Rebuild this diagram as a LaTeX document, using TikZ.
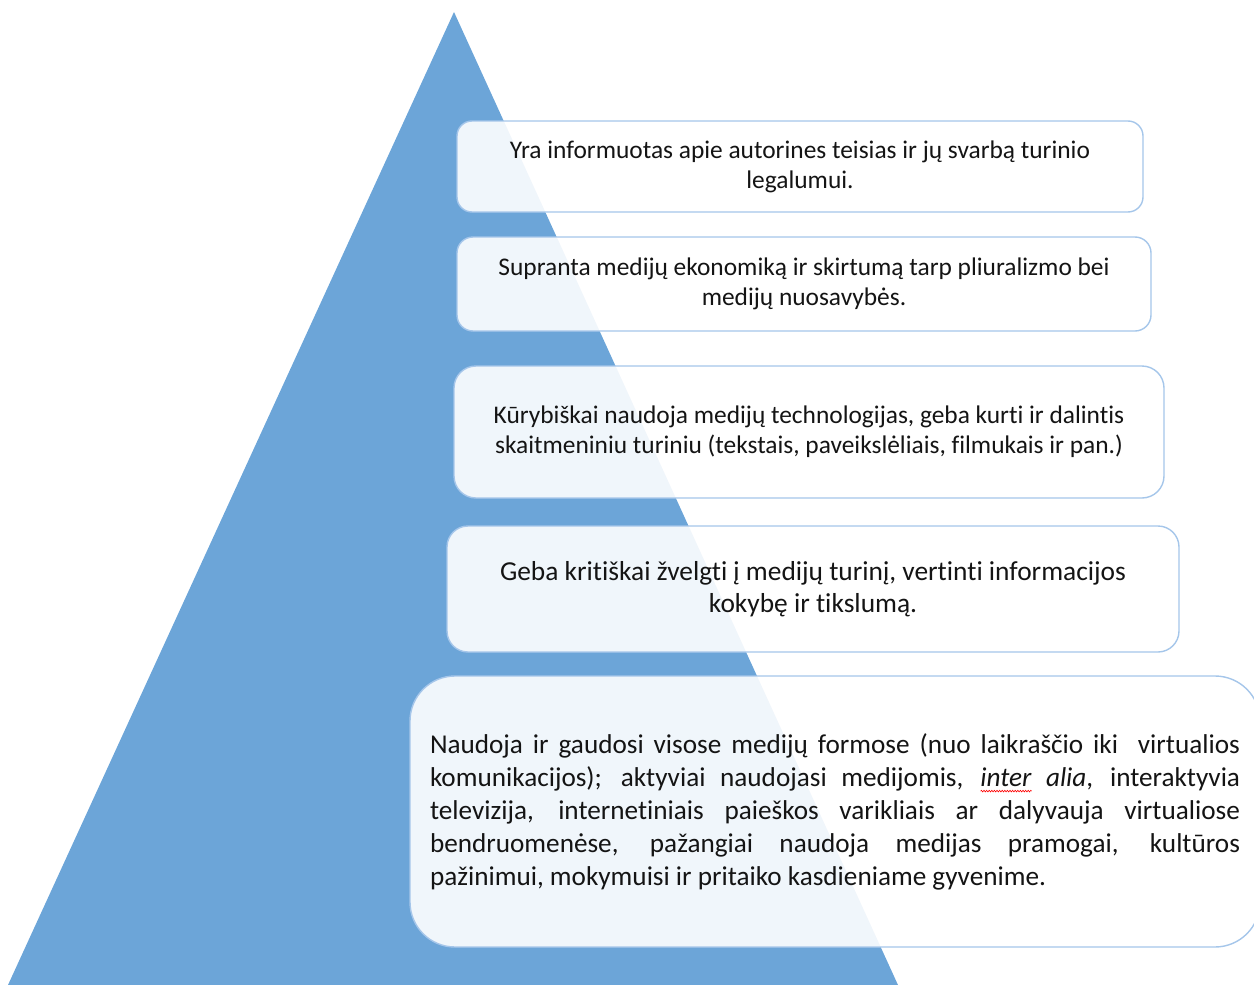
\documentclass[tikz,border=0pt]{standalone}
\usepackage{fontspec}
\setmainfont{Carlito}[Ligatures=NoCommon]
\usepackage{xcolor}
\usepackage{tikz}
\usetikzlibrary{decorations.pathmorphing}
\definecolor{pyr}{HTML}{6CA5D8}
\definecolor{edge}{HTML}{A5C6EA}
\definecolor{txt}{HTML}{141414}
\newlength{\spellwd}
\newcommand{\spellmark}[1]{\settowidth{\spellwd}{#1}\makebox[0pt][l]{\tikz[baseline=0pt,x=1pt,y=1pt,sharp corners]
  \draw[red,line width=0.6pt,opacity=1,decorate,decoration={snake,amplitude=0.8pt,segment length=2.6pt}]
    (0pt,-5pt) -- (\spellwd,-5pt);}#1}

\begin{document}
\begin{tikzpicture}[x=1pt,y=-1pt,
  level/.style={draw=edge,line width=1.4pt,fill=white,fill opacity=0.9,text opacity=1,
    text=txt,align=center,inner sep=0pt},
  small/.style={font=\fontsize{25.4}{30}\selectfont},
  big/.style={font=\fontsize{27.2}{33}\selectfont}
]
  \useasboundingbox (0,0) rectangle (1254,985);
  \clip (0,0) rectangle (1254,985);
  \fill[pyr] (454,12) coordinate (apex) -- (898,985) coordinate (br) -- (8,985) coordinate (bl) -- cycle;
  \node[level,small,rounded corners=15pt,minimum width=686pt,minimum height=91pt] (copyright) at (800,166.5)
    {Yra informuotas apie autorines teisias ir jų svarbą turinio\\ legalumui.};
  \node[level,small,rounded corners=16pt,minimum width=694pt,minimum height=94pt] (economy) at (804,284)
    {Supranta medijų ekonomiką ir skirtumą tarp pliuralizmo bei\\ medijų nuosavybės.};
  \node[level,small,rounded corners=22pt,minimum width=710pt,minimum height=132pt] (create) at (809,432)
    {Kūrybiškai naudoja medijų technologijas, geba kurti ir dalintis\\ skaitmeniniu turiniu (tekstais, paveikslėliais, filmukais ir pan.)};
  \node[level,font=\fontsize{27.4}{32}\selectfont,rounded corners=21pt,minimum width=732pt,minimum height=126pt] (critic) at (813,589)
    {Geba kritiškai žvelgti į medijų turinį, vertinti informacijos\\ kokybę ir tikslumą.};
  \node[level,big,align=justify,text width=810pt,inner xsep=20pt,rounded corners=45pt,minimum height=271pt] (use) at (835,811.5)
    {Naudoja ir gaudosi visose medijų formose (nuo laikraščio iki~ virtualios\linebreak
     komunikacijos); aktyviai naudojasi medijomis, \textit{\spellmark{inter} alia}, interaktyvia\linebreak
     televizija, internetiniais paieškos varikliais ar dalyvauja virtualiose\linebreak
     bendruomenėse, pažangiai naudoja medijas pramogai, kultūros\linebreak
     pažinimui, mokymuisi ir pritaiko kasdieniame gyvenime.};
\end{tikzpicture}
\end{document}
